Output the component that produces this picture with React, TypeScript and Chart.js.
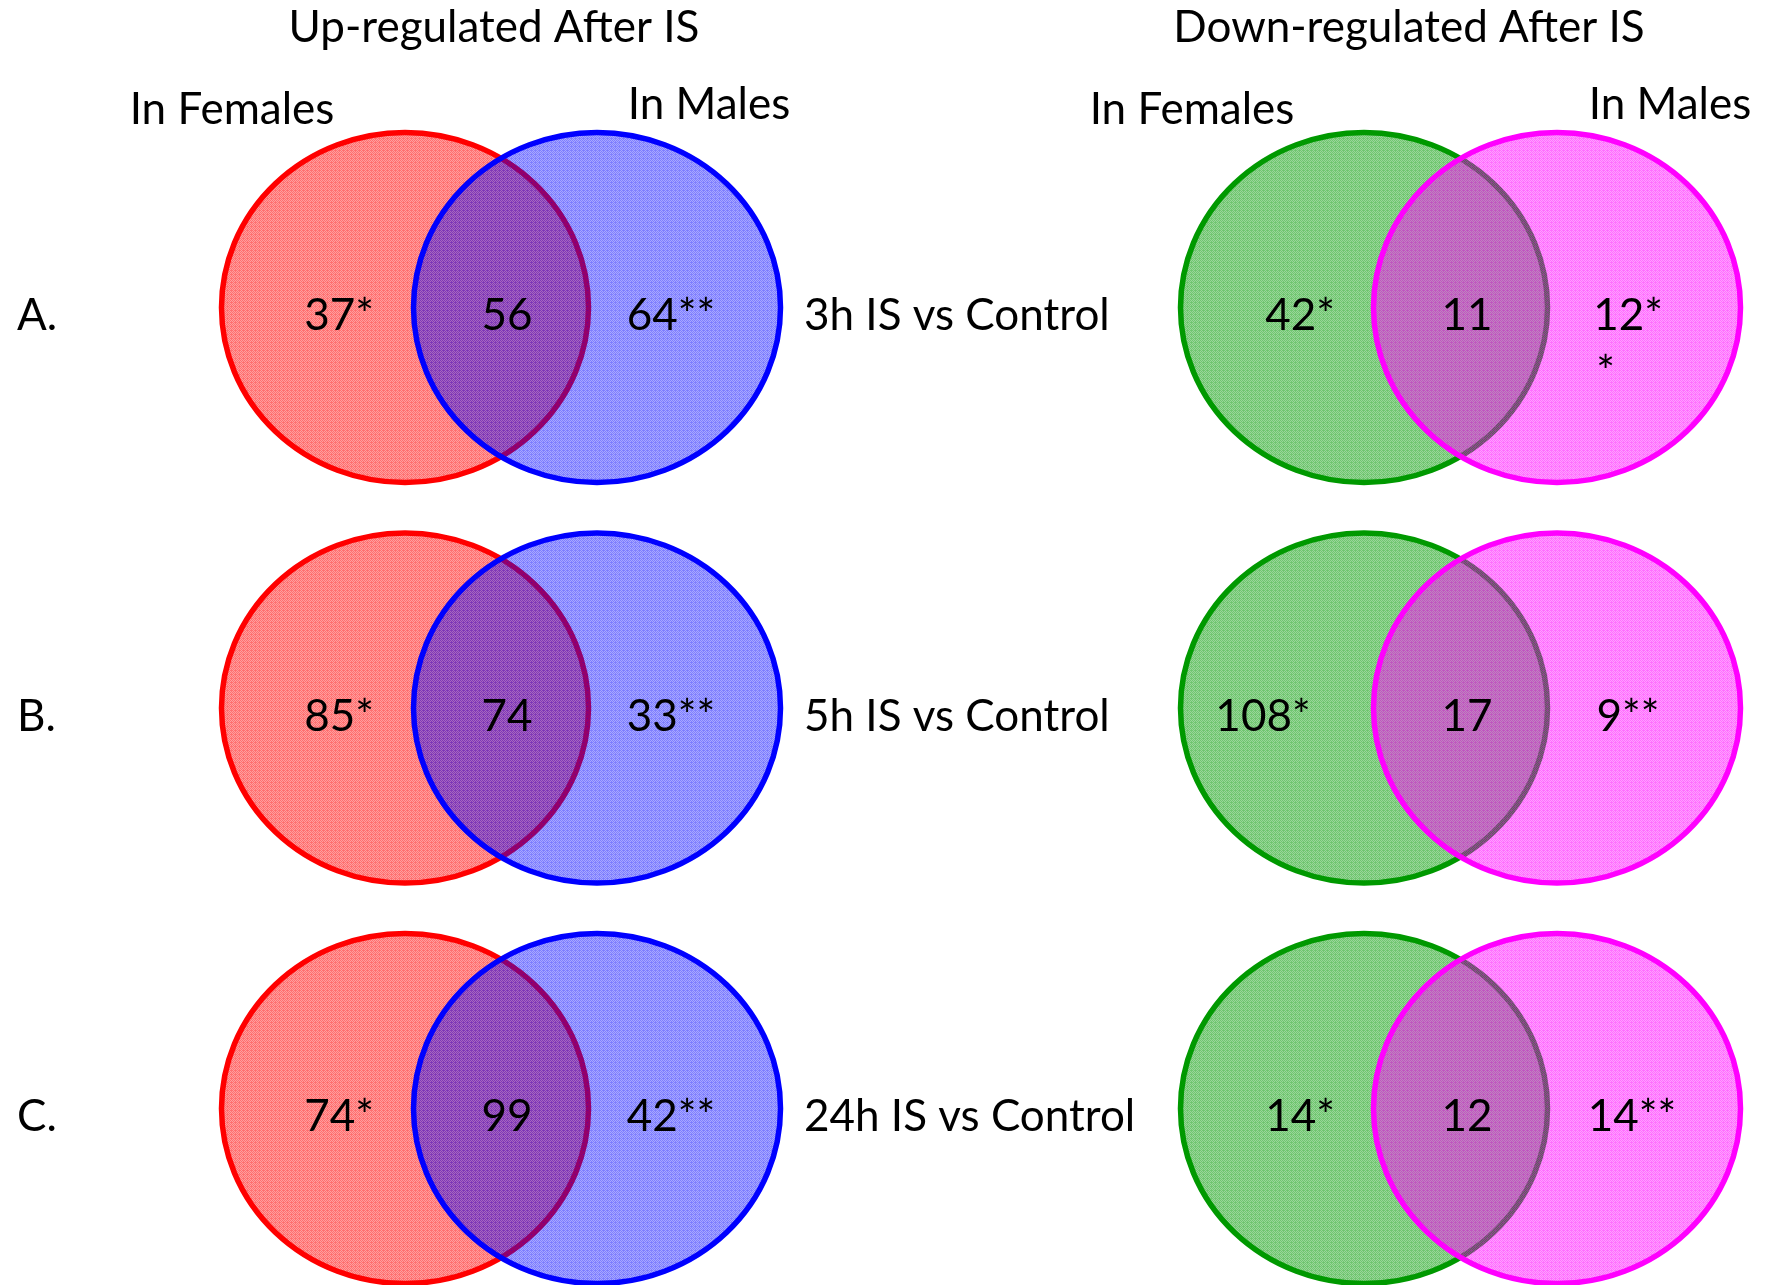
import { useEffect, useRef } from "react";
import { Chart, registerables } from "chart.js";

Chart.register(...registerables);

// ---------------- data ----------------
const rowLabels = ["A.", "B.", "C."];
const comparisons = ["3h IS vs Control", "5h IS vs Control", "24h IS vs Control"];
const panelTitles = ["Up-regulated After IS", "Down-regulated After IS"];
const groupNames = ["In Females", "In Males"];

const upFemaleOnly = [37, 85, 74];
const upShared = [56, 74, 99];
const upMaleOnly = [64, 33, 42];

const downFemaleOnly = [42, 108, 14];
const downShared = [11, 17, 12];
const downMaleOnly = [12, 9, 14];

const femaleMark = "*";
const maleMark = "**";

// ---------------- layout (positions / styles) ----------------
const W = 1768;
const H = 1285;
const ROW_Y = [307.5, 708, 1108.5];
const SET_X = [405, 597, 1364, 1557]; // female-up, male-up, female-down, male-down
const RX = 183.5;
const RY = 175;
const TEXT_DY = 22.5;
const FONT = "Lato, 'Open Sans', sans-serif";
const FS = 44;

const UP_LABEL_X = [[339, 339, 339], [507, 507, 507], [671, 671, 671]];
const DOWN_LABEL_X = [[1300, 1263, 1300], [1467, 1467, 1467], [1628, 1628, 1632]];
const WRAP = [[false, false, false], [false, false, false], [false, false, false]];
const DOWN_WRAP = [[false, false, false], [false, false, false], [true, false, false]];

const SET_STYLES = [
  { stroke: "#ff0000", rgb: [255, 0, 0], hi: 0.56, lo: 0.38 },
  { stroke: "#0000ff", rgb: [0, 0, 255], hi: 0.5, lo: 0.34 },
  { stroke: "#009900", rgb: [0, 153, 0], hi: 0.56, lo: 0.4 },
  { stroke: "#ff00ff", rgb: [255, 0, 255], hi: 0.56, lo: 0.38 },
];

function makePattern(ctx: CanvasRenderingContext2D, rgb: number[], hi: number, lo: number) {
  const c = document.createElement("canvas");
  c.width = 4;
  c.height = 4;
  const g = c.getContext("2d")!;
  const grid = [
    [1, 0, 1, 0],
    [0, 1, 0, 1],
    [1, 0, 1, 1],
    [0, 1, 0, 1],
  ];
  for (let y = 0; y < 4; y++) {
    for (let x = 0; x < 4; x++) {
      const a = grid[y][x] ? hi : lo;
      g.fillStyle = `rgba(${rgb[0]},${rgb[1]},${rgb[2]},${a})`;
      g.fillRect(x, y, 1, 1);
    }
  }
  return ctx.createPattern(c, "repeat");
}

const vennPlugin = {
  id: "venn",
  afterDatasetsDraw(chart: any) {
    const ctx: CanvasRenderingContext2D = chart.ctx;
    const xs = chart.scales.x;
    const ys = chart.scales.y;
    const px = (v: number) => xs.getPixelForValue(v);
    const py = (v: number) => ys.getPixelForValue(v);

    // ellipses
    chart.data.datasets.forEach((ds: any, di: number) => {
      const meta = chart.getDatasetMeta(di);
      const st = SET_STYLES[di];
      const pat = makePattern(ctx, st.rgb, st.hi, st.lo);
      meta.data.forEach((pt: any, i: number) => {
        const raw = ds.data[i];
        const cx = pt.x;
        const cy = pt.y;
        const rx = Math.abs(px(raw.x + RX) - cx);
        const ry = Math.abs(py(raw.y + RY) - cy);
        ctx.save();
        ctx.beginPath();
        ctx.ellipse(cx, cy, rx, ry, 0, 0, Math.PI * 2);
        ctx.fillStyle = pat as any;
        ctx.fill();
        ctx.lineWidth = 5.5;
        ctx.strokeStyle = st.stroke;
        ctx.stroke();
        ctx.restore();
      });
    });

    ctx.save();
    ctx.fillStyle = "#000";
    ctx.font = `${FS}px ${FONT}`;
    ctx.textBaseline = "alphabetic";

    // panel titles
    ctx.textAlign = "center";
    ctx.fillText(panelTitles[0], px(494), py(42));
    ctx.fillText(panelTitles[1], px(1409), py(42));

    // group names
    ctx.fillText(groupNames[0], px(232), py(124));
    ctx.fillText(groupNames[1], px(709), py(119));
    ctx.fillText(groupNames[0], px(1192), py(124));
    ctx.fillText(groupNames[1], px(1670), py(119));

    // row labels and comparisons
    ctx.textAlign = "left";
    rowLabels.forEach((lab, i) => {
      ctx.fillText(lab, px(17), py(ROW_Y[i] + TEXT_DY));
      ctx.fillText(comparisons[i], px(804), py(ROW_Y[i] + TEXT_DY));
    });

    const drawCount = (text: string, x: number, y: number, wrap: boolean) => {
      if (!wrap) {
        ctx.textAlign = "center";
        ctx.fillText(text, px(x), py(y));
        return;
      }
      const first = text.slice(0, -1);
      const rest = text.slice(-1);
      const w = ctx.measureText(first).width;
      ctx.textAlign = "center";
      ctx.fillText(first, px(x), py(y));
      ctx.textAlign = "left";
      ctx.fillText(rest, px(x) - w / 2 + 3, py(y + 57));
    };

    const up = [
      upFemaleOnly.map((v) => `${v}${femaleMark}`),
      upShared.map((v) => `${v}`),
      upMaleOnly.map((v) => `${v}${maleMark}`),
    ];
    const down = [
      downFemaleOnly.map((v) => `${v}${femaleMark}`),
      downShared.map((v) => `${v}`),
      downMaleOnly.map((v) => `${v}${maleMark}`),
    ];
    for (let r = 0; r < 3; r++) {
      for (let k = 0; k < 3; k++) {
        drawCount(up[k][r], UP_LABEL_X[k][r], ROW_Y[r] + TEXT_DY, WRAP[k][r]);
        drawCount(down[k][r], DOWN_LABEL_X[k][r], ROW_Y[r] + TEXT_DY, DOWN_WRAP[k][r]);
      }
    }
    ctx.restore();
  },
};

export default function App() {
  const ref = useRef<HTMLCanvasElement | null>(null);

  useEffect(() => {
    document.body.style.margin = "0";
    const canvas = ref.current!;
    const setNames = ["Up In Females", "Up In Males", "Down In Females", "Down In Males"];
    const chart = new Chart(canvas, {
      type: "scatter",
      data: {
        datasets: setNames.map((name, di) => ({
          label: name,
          data: ROW_Y.map((y) => ({ x: SET_X[di], y })),
          pointRadius: 0,
          pointHoverRadius: 0,
          showLine: false,
        })),
      },
      options: {
        responsive: false,
        maintainAspectRatio: false,
        devicePixelRatio: 1,
        animation: false,
        events: [],
        layout: { padding: 0 },
        scales: {
          x: { type: "linear", min: 0, max: W, display: false },
          y: { type: "linear", min: 0, max: H, reverse: true, display: false },
        },
        plugins: {
          legend: { display: false },
          tooltip: { enabled: false },
        },
      },
      plugins: [vennPlugin],
    } as any);
    return () => chart.destroy();
  }, []);

  return (
    <div style={{ position: "fixed", left: 0, top: 0, width: W, height: H, background: "#fff" }}>
      <canvas ref={ref} width={W} height={H} style={{ display: "block" }} />
    </div>
  );
}
